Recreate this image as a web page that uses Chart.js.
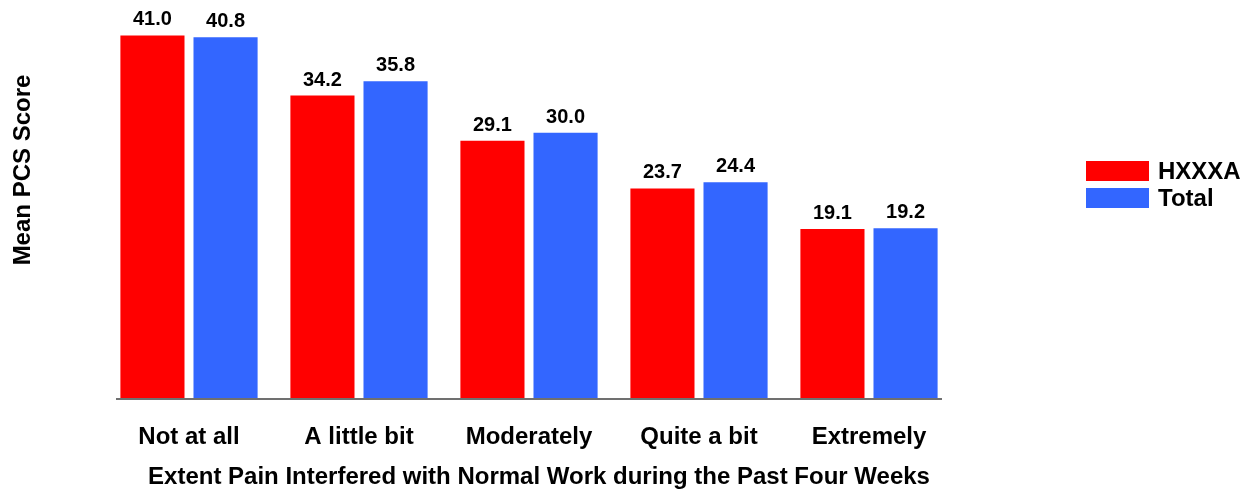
<!DOCTYPE html>
<html>
<head>
<meta charset="utf-8">
<script src="https://cdn.jsdelivr.net/npm/chart.js@4"></script>
<style>
  html, body { margin: 0; padding: 0; background: #fff; }
  #wrap { width: 1249px; height: 491px; }
</style>
</head>
<body>
<div id="wrap"><canvas id="chart"></canvas></div>
<script>
// data
const categories = ['Not at all', 'A little bit', 'Moderately', 'Quite a bit', 'Extremely'];
const seriesNames = ['HXXXA', 'Total'];
const hxxxaValues = [41.0, 34.2, 29.1, 23.7, 19.1];
const totalValues = [40.8, 35.8, 30.0, 24.4, 19.2];
const seriesColors = ['#FF0000', '#3366FF'];

const yTitle = 'Mean PCS Score';
const xTitle = 'Extent Pain Interfered with Normal Work during the Past Four Weeks';

const FONT = 'Arial, "Liberation Sans", Helvetica, sans-serif';

// labels above bars, legend, titles and the short axis line
const decorPlugin = {
  id: 'decor',
  afterDatasetsDraw(chart) {
    const { ctx, chartArea } = chart;
    ctx.save();

    // axis line (a bit inset from the category band like the original)
    ctx.strokeStyle = '#707070';
    ctx.lineWidth = 2;
    ctx.beginPath();
    ctx.moveTo(chartArea.left + 12, chartArea.bottom + 1);
    ctx.lineTo(chartArea.right - 12, chartArea.bottom + 1);
    ctx.stroke();

    // value labels
    ctx.fillStyle = '#000';
    ctx.font = 'bold 20px ' + FONT;
    ctx.textAlign = 'center';
    ctx.textBaseline = 'alphabetic';
    chart.data.datasets.forEach((ds, i) => {
      const meta = chart.getDatasetMeta(i);
      meta.data.forEach((bar, j) => {
        ctx.fillText(ds.data[j].toFixed(1), bar.x, bar.y - 10);
      });
    });

    // legend
    ctx.font = 'bold 24px ' + FONT;
    ctx.textAlign = 'left';
    ctx.textBaseline = 'middle';
    chart.data.datasets.forEach((ds, i) => {
      const y = 161 + i * 27;
      ctx.fillStyle = ds.backgroundColor;
      ctx.fillRect(1086, y, 63, 20);
      ctx.fillStyle = '#000';
      ctx.fillText(ds.label, 1158, y + 11);
    });

    // y title
    ctx.save();
    ctx.translate(23, 170);
    ctx.rotate(-Math.PI / 2);
    ctx.textAlign = 'center';
    ctx.fillText(yTitle, 0, 0);
    ctx.restore();

    // x title
    ctx.textAlign = 'center';
    ctx.textBaseline = 'alphabetic';
    ctx.font = 'bold 24px ' + FONT;
    ctx.fillText(xTitle, (chartArea.left + chartArea.right) / 2 + 10, 484);

    ctx.restore();
  }
};

new Chart(document.getElementById('chart'), {
  type: 'bar',
  data: {
    labels: categories,
    datasets: [
      { label: seriesNames[0], data: hxxxaValues, backgroundColor: seriesColors[0] },
      { label: seriesNames[1], data: totalValues, backgroundColor: seriesColors[1] },
    ],
  },
  options: {
    responsive: true,
    maintainAspectRatio: false,
    animation: false,
    layout: { padding: { left: 104, right: 295, top: 0, bottom: 0 } },
    datasets: {
      bar: { categoryPercentage: 0.86, barPercentage: 0.877 }
    },
    plugins: {
      legend: { display: false },
      tooltip: { enabled: false },
    },
    scales: {
      x: {
        grid: { display: false, drawTicks: false },
        border: { display: false },
        afterFit: (scale) => { scale.height = 93; },
        ticks: {
          color: '#000',
          padding: 25,
          font: { family: FONT, size: 24, weight: 'bold' },
        },
      },
      y: {
        display: false,
        min: 0,
        max: 45,
      },
    },
  },
  plugins: [decorPlugin],
});
</script>
</body>
</html>
